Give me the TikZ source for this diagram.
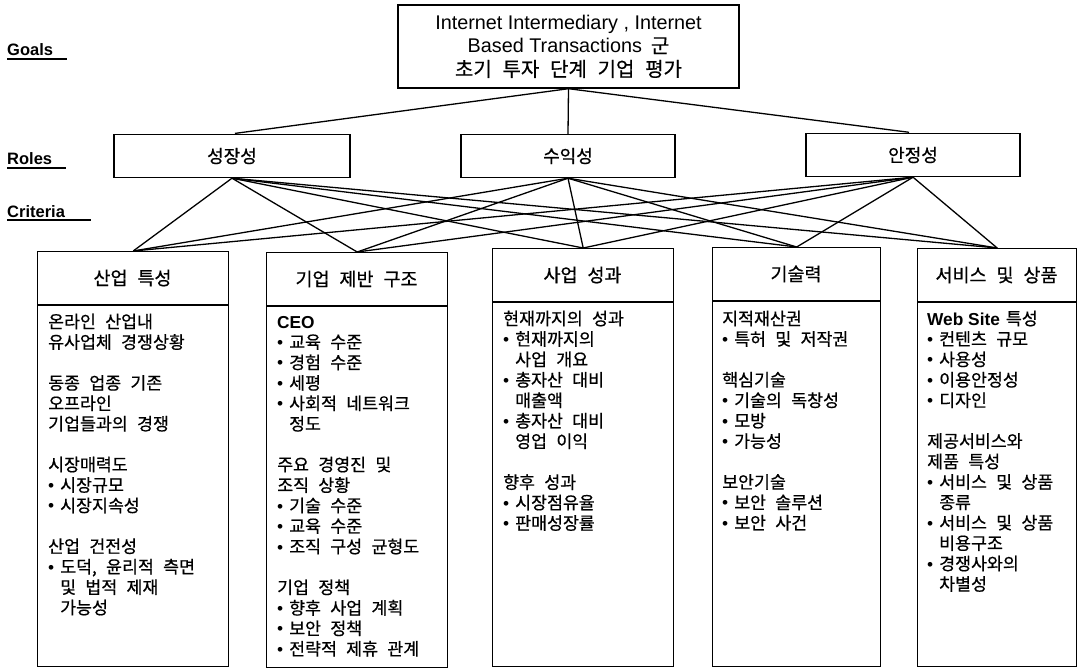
\documentclass[tikz,border=0pt]{standalone}
\usepackage{fontspec}
\setmainfont{Liberation Sans}
\newfontfamily\kr[WordSpace=2.4,FakeBold=0.6]{Noto Sans CJK KR}
\newfontfamily\lat{Liberation Sans}
\newcommand\bl{\makebox[12pt][l]{\lat\textbullet}}
\newcommand\hi{\hspace*{12pt}}
\tikzset{
  box/.style={draw, line width=1.4pt, inner sep=0pt},
  conn/.style={line width=1.3pt},
  sepline/.style={line width=1.4pt},
  body/.style={anchor=base west, inner sep=0pt, font=\kr\fontsize{17.3}{20.4}\selectfont},
  ttl/.style={inner sep=0pt, font=\kr\fontsize{18.5}{22}\selectfont},
  rolebox/.style={box, font=\kr\fontsize{18}{21}\selectfont},
  lbl/.style={anchor=base west, inner sep=0pt, font=\lat\bfseries\fontsize{16.5}{20}\selectfont},
  ul/.style={line width=1.5pt},
}
\begin{document}
\begin{tikzpicture}[x=1pt,y=-1pt]
\useasboundingbox (0,0) rectangle (1078,671);

% level labels
\node[lbl] (lg) at (7,56) {Goals};
\draw[ul] ([yshift=-3pt]lg.base west) -- ++(60,0);
\node[lbl] (lr) at (7,165) {Roles};
\draw[ul] ([yshift=-3pt]lr.base west) -- ++(59,0);
\node[lbl] (lc) at (7,217) {Criteria};
\draw[ul] ([yshift=-3pt]lc.base west) -- ++(84,0);

% goal
\node[box, minimum width=341pt, minimum height=83pt, align=center,
      font=\lat\fontsize{19.8}{23.5}\selectfont] (g) at (568.5,46.5)
  {Internet Intermediary , Internet\\
   Based Transactions\hspace{9pt}{\kr\fontsize{20}{23.5}\selectfont 군}\\
   {\kr\fontsize{20}{23.5}\selectfont 초기 투자 단계 기업 평가}};

% roles
\node[rolebox, minimum width=236pt, minimum height=43pt] (r1) at (232,156) {성장성};
\node[rolebox, minimum width=214pt, minimum height=43pt] (r2) at (568,156) {수익성};
\node[rolebox, minimum width=214pt, minimum height=43pt] (r3) at (913,155) {안정성};

% criteria boxes
\node[box, anchor=north west, minimum width=191pt, minimum height=415pt] (c1) at (37,251) {};
\node[box, anchor=north west, minimum width=181pt, minimum height=415pt] (c2) at (266,252) {};
\node[box, anchor=north west, minimum width=181pt, minimum height=418pt] (c3) at (492,248) {};
\node[box, anchor=north west, minimum width=168pt, minimum height=419pt] (c4) at (712,247) {};
\node[box, anchor=north west, minimum width=159pt, minimum height=418pt] (c5) at (917,248) {};

\draw[sepline] (37,305) -- (228,305);
\draw[sepline] (266,306) -- (447,306);
\draw[sepline] (492,302) -- (673,302);
\draw[sepline] (712,301) -- (880,301);
\draw[sepline] (917,302) -- (1076,302);

% titles
\node[ttl] (t1) at (132.5,278) {산업 특성};
\node[ttl] (t2) at (356.5,279) {기업 제반 구조};
\node[ttl] (t3) at (582.5,275) {사업 성과};
\node[ttl] (t4) at (796,274) {기술력};
\node[ttl] (t5) at (996.5,275) {서비스 및 상품};

% connectors
\draw[conn, shorten >=3pt] (g.south) -- (r1.north);
\draw[conn] (g.south) -- (r2.north);
\draw[conn, shorten >=4pt] (g.south) -- (r3.north);
\foreach \r in {r1,r2,r3}
  \foreach \c in {c1,c2,c3,c4,c5}
    \draw[conn] (\r.south) -- (\c.north);

% body texts
\node[body] (b1) at (48,328) {\begin{tabular}[t]{@{}l@{}}
온라인 산업내\\
유사업체 경쟁상황\\
\\
동종 업종 기존\\
오프라인\\
기업들과의 경쟁\\
\\
시장매력도\\
\bl 시장규모\\
\bl 시장지속성\\
\\
산업 건전성\\
\bl 도덕, 윤리적 측면\\
\hi 및 법적 제재\\
\hi 가능성
\end{tabular}};

\node[body] (b2) at (277,328) {\begin{tabular}[t]{@{}l@{}}
{\lat\bfseries CEO}\\
\bl 교육 수준\\
\bl 경험 수준\\
\bl 세평\\
\bl 사회적 네트워크\\
\hi 정도\\
\\
주요 경영진 및\\
조직 상황\\
\bl 기술 수준\\
\bl 교육 수준\\
\bl 조직 구성 균형도\\
\\
기업 정책\\
\bl 향후 사업 계획\\
\bl 보안 정책\\
\bl 전략적 제휴 관계
\end{tabular}};

\node[body] (b3) at (503,325) {\begin{tabular}[t]{@{}l@{}}
현재까지의 성과\\
\bl 현재까지의\\
\hi 사업 개요\\
\bl 총자산 대비\\
\hi 매출액\\
\bl 총자산 대비\\
\hi 영업 이익\\
\\
향후 성과\\
\bl 시장점유율\\
\bl 판매성장률
\end{tabular}};

\node[body] (b4) at (722,325) {\begin{tabular}[t]{@{}l@{}}
지적재산권\\
\bl 특허 및 저작권\\
\\
핵심기술\\
\bl 기술의 독창성\\
\bl 모방\\
\bl 가능성\\
\\
보안기술\\
\bl 보안 솔루션\\
\bl 보안 사건
\end{tabular}};

\node[body] (b5) at (927,325) {\begin{tabular}[t]{@{}l@{}}
{\lat\bfseries Web Site}\hspace{6pt}특성\\
\bl 컨텐츠 규모\\
\bl 사용성\\
\bl 이용안정성\\
\bl 디자인\\
\\
제공서비스와\\
제품 특성\\
\bl 서비스 및 상품\\
\hi 종류\\
\bl 서비스 및 상품\\
\hi 비용구조\\
\bl 경쟁사와의\\
\hi 차별성
\end{tabular}};
\end{tikzpicture}
\end{document}
